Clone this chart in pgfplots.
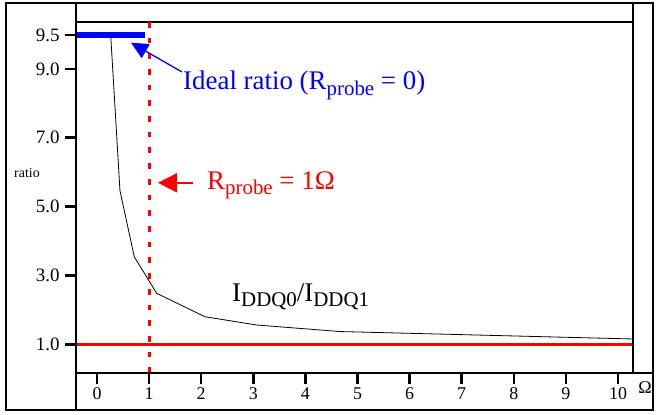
\documentclass[border=0pt]{standalone}
\usepackage{fontspec}
\setmainfont{Liberation Serif}
\usepackage{pgfplots}
\pgfplotsset{compat=1.18}
\usetikzlibrary{arrows.meta}
\newcommand\subs[1]{\raisebox{-0.42ex}{\fontsize{21}{21}\selectfont #1}}
\begin{document}
\begin{tikzpicture}
\begin{axis}[
  scale only axis, width=557bp, height=351bp,
  xmin=-0.403, xmax=10.288, ymin=0.166, ymax=10.361,
  axis line style={line width=2.5bp},
  xtick={0,1,2,3,4,5,6,7,8,9,10},
  xticklabels={\textrm{0},\textrm{1},\textrm{2},\textrm{3},\textrm{4},\textrm{5},\textrm{6},\textrm{7},\textrm{8},\textrm{9},\textrm{10}},
  ytick={1,3,5,7,9,9.98},
  yticklabels={\textrm{1.0},\textrm{3.0},\textrm{5.0},\textrm{7.0},\textrm{9.0},\textrm{9.5}},
  xtick pos=left, ytick pos=left,
  tick align=outside,
  major tick length=11bp,
  major tick style={line width=2.5bp, black},
  xticklabel style={font=\fontsize{18}{18}\selectfont},
  yticklabel style={font=\fontsize{19}{19}\selectfont, xshift=-2bp},
  /pgf/number format/assume math mode=true,
  clip=false,
]
\addplot[red, line width=3bp] coordinates {(-0.403,1) (10.288,1)};
\addplot[red, line width=3bp, dash pattern=on 5.7bp off 10bp] coordinates {(1,0.166) (1,10.361)};
\addplot[blue, line width=5.5bp] coordinates {(-0.403,9.98) (0.92,9.98)};
\addplot[black, line width=0.8bp] coordinates {
 (0.263,9.98) (0.441,5.46) (0.716,3.54) (1.146,2.48) (2.073,1.80)
 (3.065,1.56) (4.664,1.37) (10.288,1.154)};
\draw[blue, line width=1.3bp, -{Triangle[length=17bp,width=16bp]}] (axis cs:1.63,8.91) -- (axis cs:0.653,9.76);
\node[blue, anchor=base west, inner sep=0pt, font=\fontsize{27}{27}\selectfont] at (axis cs:1.651,8.386) {Ideal ratio (R\subs{probe} = 0)};
\draw[red, line width=2bp, -{Triangle[length=19bp,width=19bp]}] (axis cs:1.843,5.69) -- (axis cs:1.171,5.69);
\node[red, anchor=base west, inner sep=0pt, font=\fontsize{27}{27}\selectfont] at (axis cs:2.111,5.50) {R\subs{probe} = 1Ω};
\node[black, anchor=base west, inner sep=0pt, font=\fontsize{27}{27}\selectfont] at (axis cs:2.591,2.237) {I\subs{DDQ0}/I\subs{DDQ1}};
\end{axis}
\node[font=\fontsize{18}{18}\selectfont] at (569bp,-15bp) {Ω};
\node[font=\fontsize{14}{14}\selectfont] at (-49bp,200bp) {ratio};
\draw[line width=2.5bp] (-70bp,-37bp) rectangle (577bp,370bp);
\draw[line width=2.5bp] (0,-37bp) -- (0,370bp);
\draw[line width=2.5bp] (557bp,0) -- (557bp,370bp);
\draw[line width=2.5bp] (0,0) -- (577bp,0);
\path (-76bp,-42bp) (587bp,373bp);
\end{tikzpicture}
\end{document}
